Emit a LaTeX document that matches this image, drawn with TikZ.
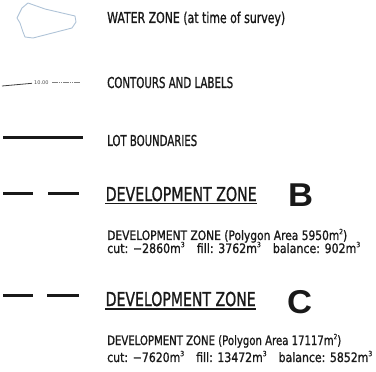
\documentclass[tikz,border=0pt]{standalone}
\usepackage{graphicx}
\usepackage{fontspec}
\setmainfont{DejaVu Sans}[FakeBold=1.2]
\newfontfamily\bigfont{Liberation Sans}
\newfontfamily\tinyfont{DejaVu Sans}
\newcommand\fitw[2]{\resizebox{#1pt}{\height}{#2}}
\newcommand\sq{\raisebox{0.45em}{\scalebox{0.55}{2}}}
\newcommand\cu{\raisebox{0.45em}{\scalebox{0.55}{3}}}
\begin{document}
\begin{tikzpicture}[x=1pt,y=-1pt,
  lbl/.style={inner sep=0pt,anchor=base west,text=black!90},
  small/.style={lbl,font=\fontsize{15}{15}\selectfont},
  head/.style={lbl,font=\fontsize{19.2}{19.2}\selectfont},
  sub/.style={lbl,font=\fontsize{13}{13}\selectfont},
  big/.style={lbl,font=\fontsize{33}{33}\selectfont\bigfont\bfseries},
  thickline/.style={line width=3.5pt,black!90},
  dashline/.style={line width=3pt,black!90}]
\useasboundingbox (0,0) rectangle (376,372);
% water zone
\draw[color={rgb,255:red,175;green,195;blue,215},line width=0.9pt,line join=round]
  (28,3) -- (45,9) -- (75,16) -- (76,22) -- (72,28) -- (33,38) -- (25,37) -- (23,32)
  -- (20,23) -- (17,18) -- (22,8) -- cycle;
\node[small] (water) at (107,23) {\fitw{178}{WATER ZONE (at time of survey)}};
% contours
\coordinate (c1) at (2,86);
\coordinate (c2) at (32,83.3);
\draw[black!75,line width=0.8pt] (c1) -- (c2);
\node[inner sep=0pt,anchor=west,font=\fontsize{5}{5}\selectfont\tinyfont,text=black!70] (clab) at (34,82.8) {10.00};
\coordinate (c3) at (52,82.5);
\coordinate (c4) at (80,82.5);
\draw[black!50,line width=0.6pt,dash pattern=on 1.5pt off 0.7pt] (c3) -- (c4);
\node[small] (contours) at (107,88) {\fitw{126}{CONTOURS AND LABELS}};
% lot boundaries
\coordinate (l1) at (3,137.7);
\coordinate (l2) at (83,137.7);
\draw[thickline] (l1) -- (l2);
\node[small] (lot) at (107,146) {\fitw{90}{LOT BOUNDARIES}};
% development zone B
\coordinate (b1) at (3,193.3);
\coordinate (b2) at (33,193.3);
\coordinate (b3) at (48,193.3);
\coordinate (b4) at (79,193.3);
\draw[dashline] (b1) -- (b2);
\draw[dashline] (b3) -- (b4);
\node[head] (hb) at (105.5,201) {\fitw{151}{DEVELOPMENT ZONE}};
\draw[black!90,line width=1.1pt] (105,203.8) -- (257,203.8);
\node[big] (B) at (288,207) {\fitw{25}{B}};
\node[sub] (sb1) at (107,240) {\fitw{240}{DEVELOPMENT ZONE (Polygon Area 5950m\sq)}};
\node[sub] (sb2) at (107,253) {\fitw{253}{cut: −2860m\cu\hspace{1.1em}fill: 3762m\cu\hspace{1.1em}balance: 902m\cu}};
% development zone C
\coordinate (d1) at (3,295);
\coordinate (d2) at (33,295);
\coordinate (d3) at (47,295);
\coordinate (d4) at (79,295);
\draw[dashline] (d1) -- (d2);
\draw[dashline] (d3) -- (d4);
\node[head] (hc) at (105.5,306) {\fitw{150}{DEVELOPMENT ZONE}};
\draw[black!90,line width=1.1pt] (105,309) -- (256,309);
\node[big] (C) at (287,313) {\fitw{25}{C}};
\node[sub] (sc1) at (107,345) {\fitw{234}{DEVELOPMENT ZONE (Polygon Area 17117m\sq)}};
\node[sub] (sc2) at (107,362) {\fitw{265}{cut: −7620m\cu\hspace{1.1em}fill: 13472m\cu\hspace{1.1em}balance: 5852m\cu}};
\end{tikzpicture}
\end{document}
